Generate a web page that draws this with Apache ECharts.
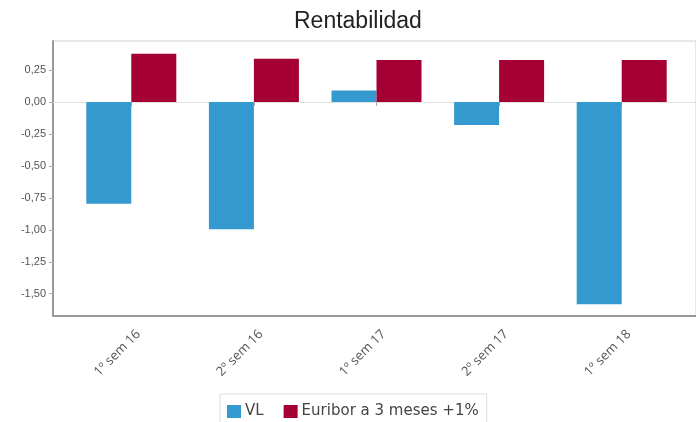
<!DOCTYPE html>
<html>
<head>
<meta charset="utf-8">
<script src="https://cdn.jsdelivr.net/npm/echarts@6/dist/echarts.min.js"></script>
<style>
  html, body { margin: 0; padding: 0; background: #fff; }
  #chart { width: 696px; height: 422px; }
</style>
</head>
<body>
<div id="chart"></div>
<script>
;(function () {
  const categories = ['1º sem 16', '2º sem 16', '1º sem 17', '2º sem 17', '1º sem 18']
  const vl = [-0.8, -1.0, 0.09, -0.18, -1.59]
  const euribor = [0.38, 0.34, 0.33, 0.33, 0.33]
  const yTicks = [-1.5, -1.25, -1.0, -0.75, -0.5, -0.25, 0, 0.25]

  const yMin = -1.675
  const yMax = 0.48
  const font = 'Liberation Sans, Arial, sans-serif'
  const smallFont = 'Open Sans, DejaVu Sans, sans-serif'

  function fmt(v) {
    return v.toFixed(2).replace('.', ',')
  }

  const chart = echarts.init(document.getElementById('chart'))

  chart.setOption({
    animation: false,
    textStyle: { fontFamily: font },
    title: {
      text: 'Rentabilidad',
      left: 289,
      top: 5,
      textStyle: { fontSize: 23, fontWeight: 'normal', color: '#222', fontFamily: font },
    },
    legend: {
      data: ['VL', 'Euribor a 3 meses +1%'],
      left: 220,
      top: 394,
      padding: [10, 8, 10, 7],
      borderColor: '#ddd',
      borderWidth: 1,
      itemWidth: 14,
      itemHeight: 13,
      itemGap: 20,
      icon: 'rect',
      textStyle: { fontSize: 15, color: '#444', fontFamily: 'DejaVu Sans, sans-serif', padding: [0, 0, 0, -1] },
    },
    grid: [
      // bars sit inside this one, with some room on each side like the original
      { left: 70, right: 13, top: 41, bottom: 107 },
      // outer frame, y labels and zero line
      { left: 53, right: -2, top: 41, bottom: 106, show: true, borderColor: '#d0d0d0', borderWidth: 1 },
    ],
    xAxis: [
      {
        type: 'category',
        gridIndex: 0,
        data: categories,
        axisLine: { show: false },
        axisTick: { show: true, alignWithLabel: true, length: 4, lineStyle: { color: '#aaa' } },
        axisLabel: {
          rotate: 45,
          fontSize: 13,
          fontFamily: smallFont,
          color: '#555',
          margin: 10,
          formatter: (v) => `{a|${v}}`,
          rich: { a: { fontSize: 13, fontFamily: smallFont, color: '#555', padding: [20, 0, 0, 0] } },
        },
      },
      {
        type: 'category',
        gridIndex: 1,
        data: [''],
        axisLine: { show: true, onZero: true, lineStyle: { color: '#e2e2e2' } },
        axisTick: { show: false },
        axisLabel: { show: false },
      },
      {
        type: 'category',
        gridIndex: 1,
        data: [''],
        position: 'bottom',
        axisLine: { show: true, onZero: false, lineStyle: { color: '#999', width: 2 } },
        axisTick: { show: false },
        axisLabel: { show: false },
      },
    ],
    yAxis: [
      {
        type: 'value',
        gridIndex: 0,
        min: yMin,
        max: yMax,
        show: false,
        splitLine: { show: false },
      },
      {
        type: 'value',
        gridIndex: 1,
        min: yMin,
        max: yMax,
        axisLine: { show: true, lineStyle: { color: '#999', width: 2 } },
        axisTick: { show: true, length: 4, customValues: yTicks, lineStyle: { color: '#aaa' } },
        axisLabel: {
          customValues: yTicks,
          formatter: fmt,
          fontSize: 11,
          color: '#555',
          margin: 7,
          padding: [6, 0, 0, 0],
        },
        splitLine: { show: false },
      },
    ],
    series: [
      {
        name: 'VL',
        type: 'bar',
        xAxisIndex: 0,
        yAxisIndex: 0,
        data: vl,
        barWidth: 45,
        barGap: '0%',
        itemStyle: { color: '#3399cf' },
      },
      {
        name: 'Euribor a 3 meses +1%',
        type: 'bar',
        xAxisIndex: 0,
        yAxisIndex: 0,
        data: euribor,
        barWidth: 45,
        barGap: '0%',
        itemStyle: { color: '#a50034' },
      },
    ],
  })
})()
</script>
</body>
</html>
